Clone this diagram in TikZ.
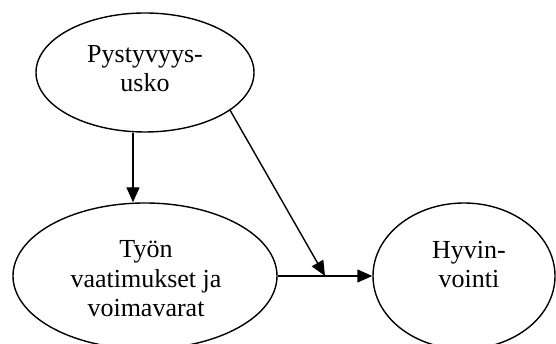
\documentclass[tikz,border=0pt]{standalone}
\usepackage{fontspec}
\setmainfont{Liberation Serif}
\usetikzlibrary{shapes.geometric,arrows.meta,calc}

\tikzset{
	oval/.style={draw, ellipse, line width=1.4pt, inner sep=0pt},
	label/.style={align=center, font=\fontsize{26}{29.5}\selectfont},
	arr/.style={line width=1.4pt, -{Triangle[length=15pt, width=13pt]}}
}

\begin{document}
\begin{tikzpicture}[x=1pt, y=1pt]
	\useasboundingbox (0,0) rectangle (556,344);
	
	\node[oval, minimum width=218pt, minimum height=119pt] (usko) at (145,271.5) {};
	
	\node[oval, minimum width=264pt, minimum height=146pt] (tyon) at (145,68) {};
	
	\node[oval, minimum width=182pt, minimum height=146pt] (hyvin) at (464,68) {};
	\node[label] (uskotext) at (145,275.6) 
    {Pystyvyys-\\usko};
    \node[label] (tyontext) at (146,65) 
    {Työn\\vaatimukset ja\\voimavarat};
    \node[label] (hyvintext) at (469,79.6) 
    {Hyvin-\\vointi};
    
	\coordinate (join) at ($(tyon.east)!0.5!(hyvin.west)$);
	\draw[arr] ([xshift=-12pt]usko.south) -- ([xshift=-12pt]tyon.north);
	\draw[arr] (tyon.east) -- (hyvin.west);
	\draw[arr] (usko.-24) -- (join);
    
	\end{tikzpicture}
\end{document}
